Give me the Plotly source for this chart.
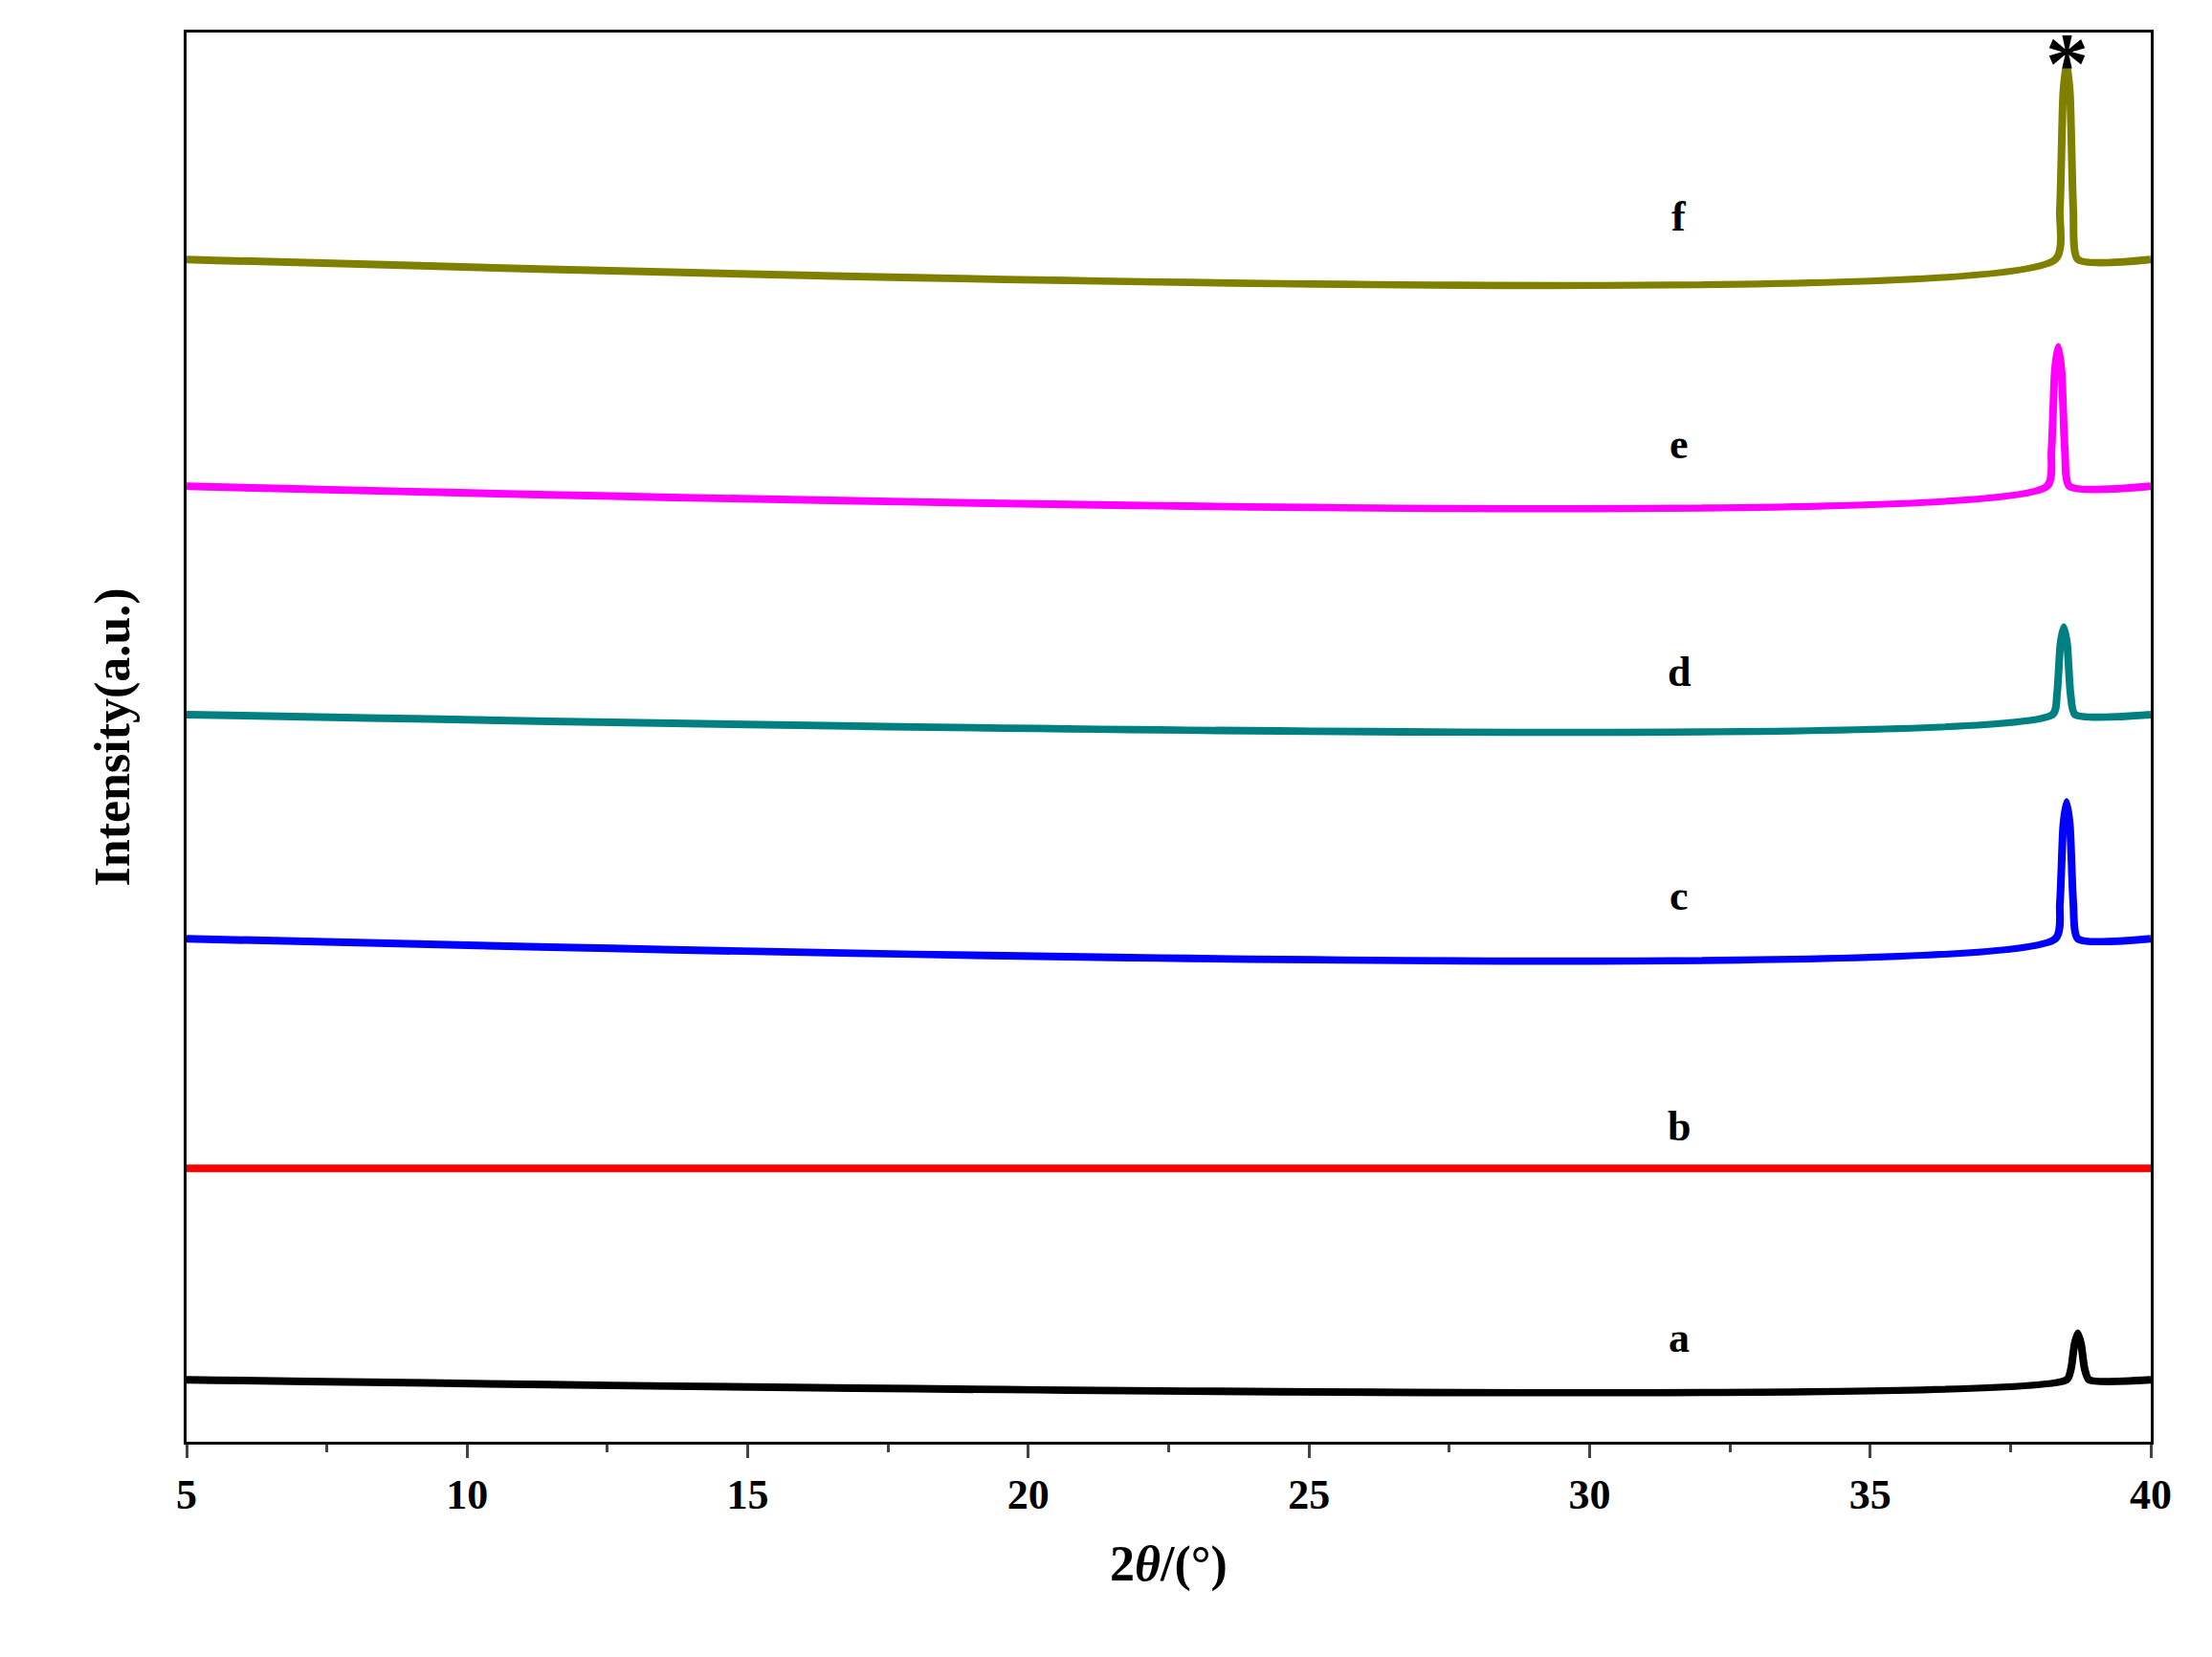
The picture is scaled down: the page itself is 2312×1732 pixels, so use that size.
import plotly.graph_objects as go

labels = ["a", "b", "c", "d", "e", "f"]
colors = ["#000000", "#ff0000", "#0000ff", "#008080", "#ff00ff", "#808000"]
baselines = [44, 194, 357, 516, 678, 839]
x_a = [5, 38.5, 38.58, 38.64, 38.7, 38.76, 38.82, 38.9, 40]
y_a = [0, 0, 8, 25, 33, 25, 8, 0, 0]
x_b = [5, 40]
y_b = [0, 0]
x_c = [5, 38.3, 38.38, 38.44, 38.5, 38.56, 38.62, 38.7, 40]
y_c = [0, 0, 25, 80, 97, 80, 25, 0, 0]
x_d = [5, 38.25, 38.33, 38.39, 38.45, 38.51, 38.57, 38.65, 40]
y_d = [0, 0, 15, 50, 62, 50, 15, 0, 0]
x_e = [5, 38.15, 38.23, 38.29, 38.35, 38.41, 38.47, 38.55, 40]
y_e = [0, 0, 25, 82, 99, 82, 25, 0, 0]
x_f = [5, 38.3, 38.38, 38.44, 38.5, 38.56, 38.62, 38.7, 40]
y_f = [0, 0, 35, 118, 140, 118, 35, 0, 0]
xs = [x_a, x_b, x_c, x_d, x_e, x_f]
ys = [y_a, y_b, y_c, y_d, y_e, y_f]
label_x = 31.6

font = "Liberation Serif"
fig = go.Figure()
for lab, c, b, x, y in zip(labels, colors, baselines, xs, ys):
    fig.add_trace(go.Scatter(x=x, y=[b + v for v in y], mode="lines",
                             line=dict(color=c, width=8, shape="spline", smoothing=0.6),
                             showlegend=False))
    fig.add_annotation(x=label_x, y=b + 12, text=f"<b>{lab}</b>", showarrow=False,
                       yanchor="bottom", font=dict(family=font, size=44, color="black"))
fig.add_annotation(x=38.5, y=baselines[5] + 140, text="<b>*</b>", showarrow=False,
                   yanchor="middle", yshift=-2, font=dict(family=font, size=90, color="black"))

fig.update_layout(
    width=2312, height=1732, plot_bgcolor="white", paper_bgcolor="white",
    margin=dict(l=187, r=72, t=26, b=233),
    font=dict(family=font, size=44, color="black"),
)
fig.update_xaxes(range=[5, 40], tickvals=[5, 10, 15, 20, 25, 30, 35, 40],
                 ticks="outside", ticklen=14, tickwidth=3, showline=True, linewidth=3,
                 linecolor="black", mirror=True, showgrid=False, zeroline=False,
                 minor=dict(ticks="outside", ticklen=8, tickwidth=3, dtick=2.5),
                 tickfont=dict(family=font, size=44, weight="bold"),
                 title=dict(text="<b>2<i>θ</i>/(°)</b>", font=dict(family=font, size=52), standoff=30))
fig.update_yaxes(range=[0, 1000], showticklabels=False, ticks="", showline=True,
                 linewidth=3, linecolor="black", mirror=True, showgrid=False, zeroline=False,
                 title=dict(text="<b>Intensity(a.u.)</b>", font=dict(family=font, size=52), standoff=40))
fig.write_html("out.html")
